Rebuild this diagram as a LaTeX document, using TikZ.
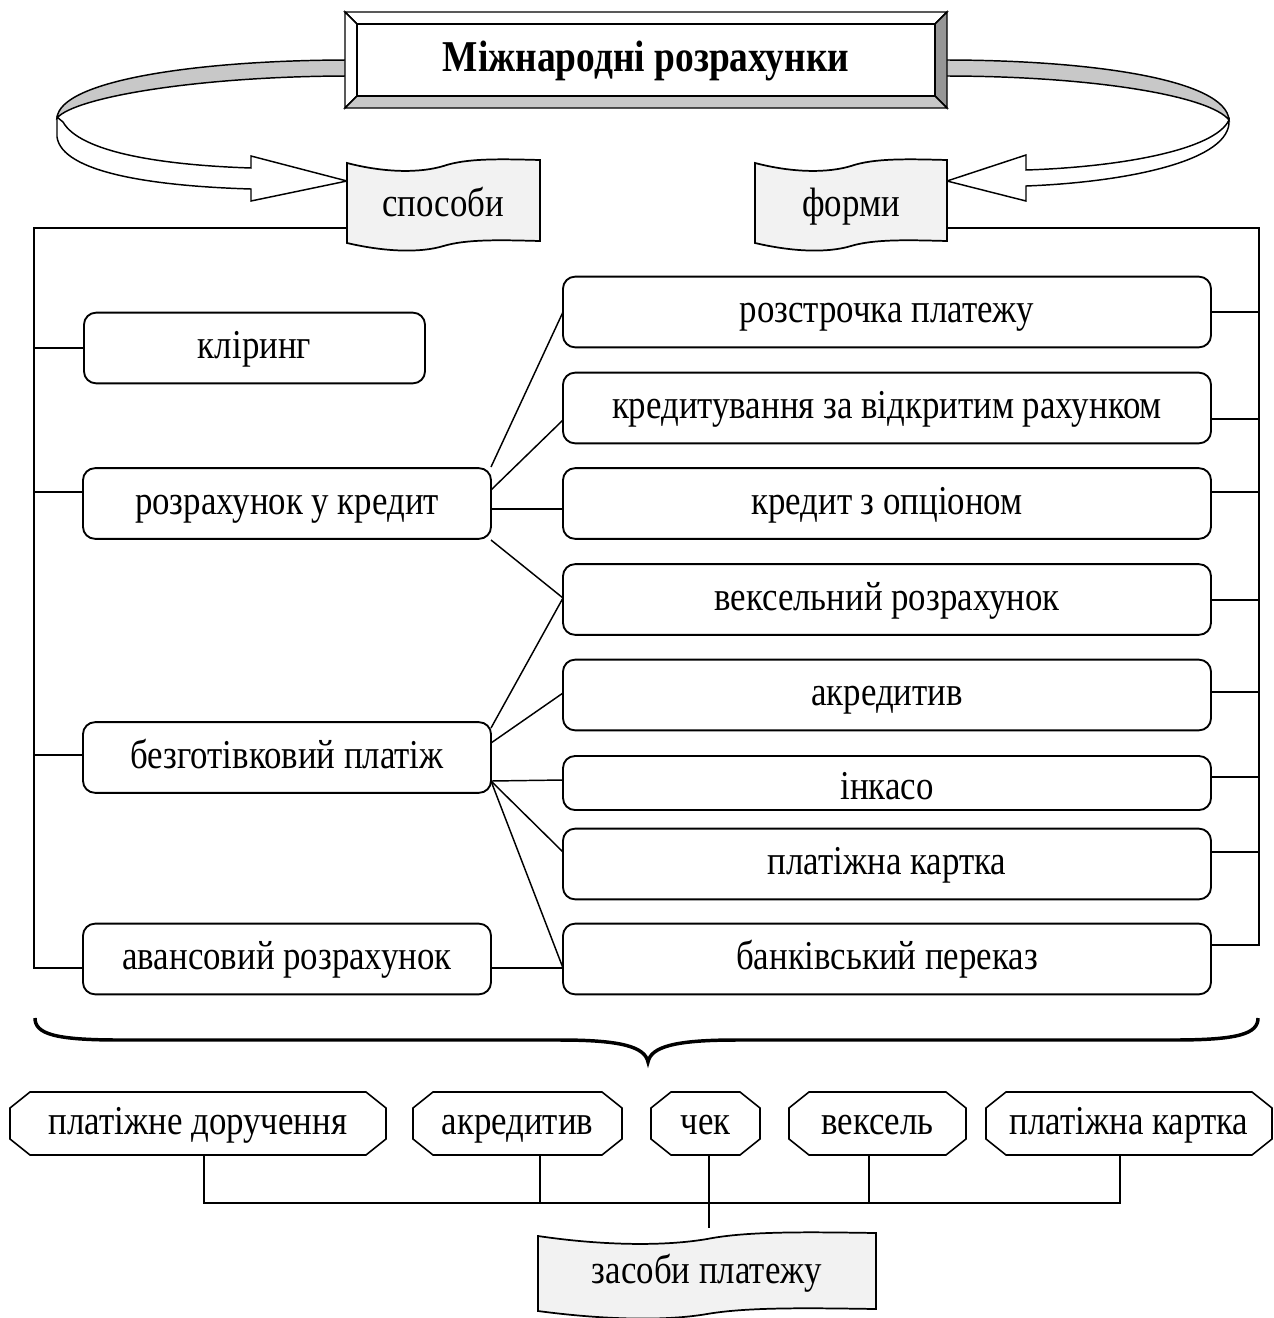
\documentclass[tikz,border=0pt]{standalone}
\usepackage{fontspec}
\setmainfont{Liberation Serif}[FakeStretch=0.85]
\definecolor{bandgray}{HTML}{C8C8C8}
\definecolor{darkbevel}{HTML}{969696}
\definecolor{bannerbg}{HTML}{F2F2F2}
\newcommand\wavyshape[4]{%
 \filldraw[bannerfill] (#1,#3)
   .. controls ({#1+0.2*(#2-#1)},{#3+10}) and ({#1+0.38*(#2-#1)},{#3+10}) .. ({#1+0.5*(#2-#1)},{#3+3})
   .. controls ({#1+0.62*(#2-#1)},{#3-5}) and ({#1+0.8*(#2-#1)},{#3-4}) .. (#2,{#3-3})
   -- (#2,{#4-2})
   .. controls ({#1+0.8*(#2-#1)},{#4-3}) and ({#1+0.62*(#2-#1)},{#4-4}) .. ({#1+0.5*(#2-#1)},{#4+3})
   .. controls ({#1+0.38*(#2-#1)},{#4+10}) and ({#1+0.2*(#2-#1)},{#4+9}) .. (#1,#4) -- cycle;}
\newcommand\octbox[4]{% name, x0, x1, text
 \node[minimum width={(#3-#2)*0.75pt}, minimum height=47.25pt] (#1) at ({(#2+#3)/2},1123.5) {#4};
 \draw[octline] ({#2+20},1092) -- ({#3-20},1092) -- (#3,1108) -- (#3,1139) -- ({#3-20},1155)
   -- ({#2+20},1155) -- (#2,1139) -- (#2,1108) -- cycle;}
\begin{document}
\begin{tikzpicture}[x=0.75pt,y=-0.75pt,
  every node/.style={font=\fontsize{30.75}{33}\selectfont, inner sep=0pt, outer sep=0pt, text height=20pt, text depth=4.2pt},
  rbox/.style={draw, line width=1.4pt, rounded corners=9pt, minimum width=#1, minimum height=53pt},
  rbox/.default=306pt,
  octline/.style={line width=1.2pt, line join=miter},
  link/.style={line width=1.1pt},
  outline/.style={draw=black, line width=1.1pt, line join=miter},
  bannerfill/.style={fill=bannerbg, draw=black, line width=1.3pt},
  brace/.style={line width=2.6pt}]
\useasboundingbox (0,0) rectangle (1274,1318);
\fill[white] (0,0) rectangle (1274,1318);

% ribbons
\filldraw[outline, fill=bandgray] (350,60) .. controls (200,60) and (60,80) .. (57,118) .. controls (75,97) and (200,76) .. (350,76) -- cycle;
\filldraw[outline, fill=white] (57,117) -- (57,137) .. controls (62,172) and (150,186) .. (251,189) -- (251,201) -- (347,181) -- (251,156) -- (251,168) .. controls (160,165) and (80,152) .. (63,122) -- cycle;
\filldraw[outline, fill=bandgray] (944,60) .. controls (1094,60) and (1226,80) .. (1229,120) .. controls (1210,96) and (1094,76) .. (944,76) -- cycle;
\filldraw[outline, fill=white] (1229,120) .. controls (1215,150) and (1120,167) .. (1026,170) -- (1026,155) -- (947,181) -- (1026,201) -- (1026,186) .. controls (1130,182) and (1232,160) .. (1229,120) -- cycle;

% title box with bevel
\filldraw[outline, fill=white] (345,12) -- (947,12) -- (935,24) -- (357,24) -- cycle;
\filldraw[outline, fill=white] (345,12) -- (357,24) -- (357,96) -- (345,108) -- cycle;
\filldraw[outline, fill=darkbevel] (947,12) -- (947,108) -- (935,96) -- (935,24) -- cycle;
\filldraw[outline, fill=bandgray] (345,108) -- (947,108) -- (935,96) -- (357,96) -- cycle;
\draw[outline] (357,24) rectangle (935,96);
\node[font=\fontsize{33}{36}\selectfont\bfseries, text height=22pt, text depth=0pt] (title) at (646,57) {Міжнародні розрахунки};

% banners
\wavyshape{347}{540}{163}{243}
\node (sposoby) at (443,206) {способи};
\wavyshape{755}{947}{163}{243}
\node (formy) at (851,206) {форми};
\wavyshape{538}{876}{1236}{1311}
\node (zasoby) at (707,1273) {засоби платежу};

% left boxes
\node[rbox=255.75pt] (kliring) at (254.5,348) {кліринг};
\node[rbox] (kredyt) at (287,503.5) {розрахунок у кредит};
\node[rbox] (bezgot) at (287,757.5) {безготівковий платіж};
\node[rbox] (avans) at (287,959) {авансовий розрахунок};

% right boxes
\node[rbox=486pt] (rozstr) at (887,312) {розстрочка платежу};
\node[rbox=486pt] (kredvid) at (887,408) {кредитування за відкритим рахунком};
\node[rbox=486pt] (kredop) at (887,503.5) {кредит з опціоном};
\node[rbox=486pt] (veks) at (887,599.5) {вексельний розрахунок};
\node[rbox=486pt] (akred) at (887,695) {акредитив};
\node[rbox=486pt, minimum height=40.5pt] (inkaso) at (887,783) {\raisebox{-4.5pt}{інкасо}};
\node[rbox=486pt] (kartka) at (887,864) {платіжна картка};
\node[rbox=486pt] (perekaz) at (887,959) {банківський переказ};

% left trunk
\draw[link] (347,228) -- (34,228) -- (34,968) -- (avans.west |- 0,968);
\draw[link] (34,348) -- (kliring.west);
\draw[link] (34,492) -- (kredyt.west |- 0,492);
\draw[link] (34,755) -- (bezgot.west |- 0,755);

% right trunk
\draw[link] (947,228) -- (1259,228) -- (1259,945) -- (perekaz.east |- 0,945);
\draw[link] (rozstr.east) -- (1259,312);
\draw[link] (kredvid.east |- 0,419) -- (1259,419);
\draw[link] (kredop.east |- 0,492) -- (1259,492);
\draw[link] (veks.east |- 0,600) -- (1259,600);
\draw[link] (akred.east |- 0,692) -- (1259,692);
\draw[link] (inkaso.east |- 0,777) -- (1259,777);
\draw[link] (kartka.east |- 0,852) -- (1259,852);

% middle links
\draw[link] (kredyt.east |- 0,467) -- (rozstr.west);
\draw[link] (kredyt.east |- 0,490) -- (kredvid.west |- 0,420);
\draw[link] (kredyt.east |- 0,509) -- (kredop.west |- 0,509);
\draw[link] (kredyt.east |- 0,540) -- (veks.west |- 0,598);
\draw[link] (bezgot.east |- 0,728) -- (veks.west |- 0,598);
\draw[link] (bezgot.east |- 0,743) -- (akred.west |- 0,693);
\draw[link] (bezgot.east |- 0,781) -- (inkaso.west |- 0,780);
\draw[link] (bezgot.east |- 0,781) -- (kartka.west |- 0,852);
\draw[link] (bezgot.east |- 0,781) -- (perekaz.west |- 0,968);
\draw[link] (avans.east |- 0,968) -- (perekaz.west |- 0,968);

% brace
\draw[brace] (35,1018) .. controls (35,1034) and (55,1040) .. (120,1040) -- (560,1040) .. controls (622,1040) and (645,1047) .. (648,1062) .. controls (651,1047) and (674,1040) .. (736,1040) -- (1173,1040) .. controls (1238,1040) and (1258,1034) .. (1258,1018);

% bottom octagons
\octbox{o1}{10}{386}{платіжне доручення}
\octbox{o2}{413}{622}{акредитив}
\octbox{o3}{651}{760}{чек}
\octbox{o4}{789}{966}{вексель}
\octbox{o5}{986}{1272}{платіжна картка}

\draw[link] (o1.south -| 204,0) -- (204,1203) -- (1120,1203) -- (o5.south -| 1120,0);
\draw[link] (o2.south -| 540,0) -- (540,1203);
\draw[link] (o4.south -| 869,0) -- (869,1203);
\draw[link] (o3.south -| 709,0) -- (709,1228);
\end{tikzpicture}
\end{document}
